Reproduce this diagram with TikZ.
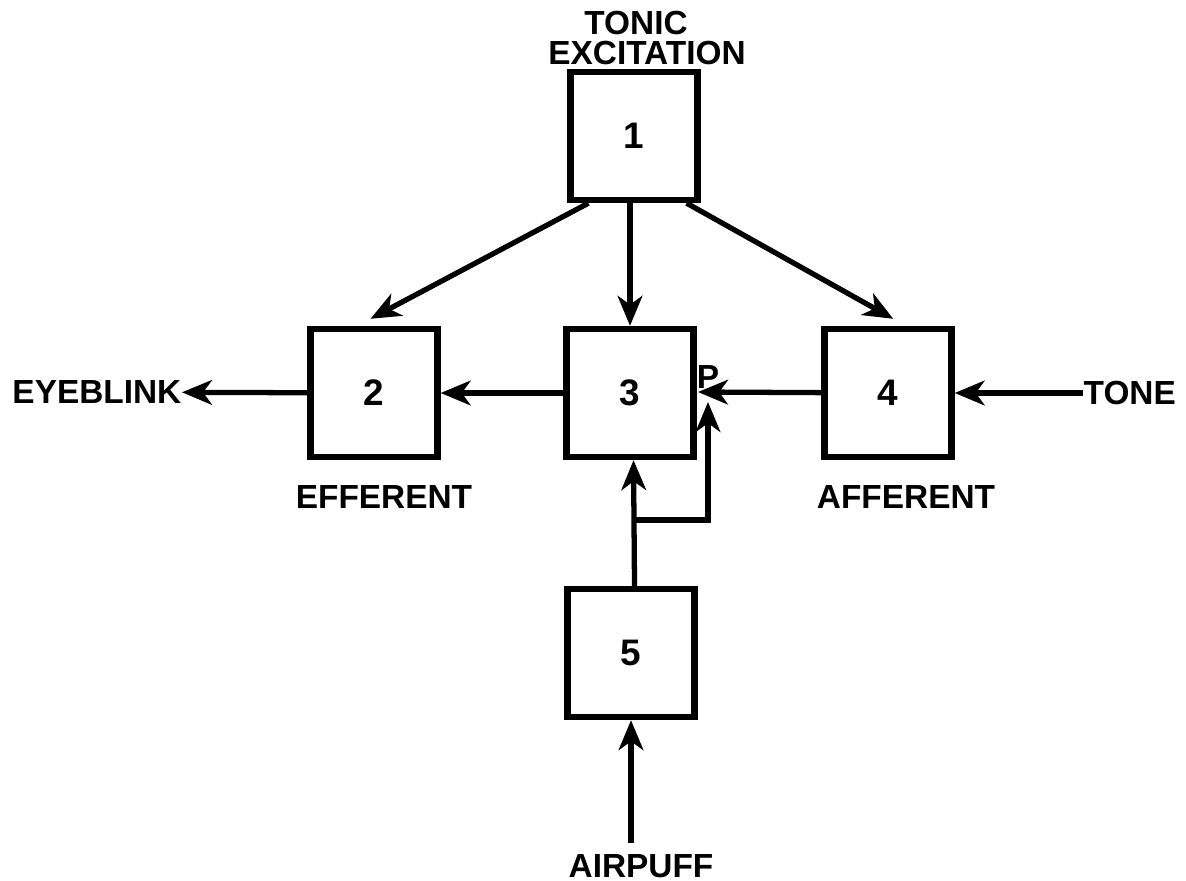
\documentclass[tikz,border=0pt]{standalone}
\usepackage{fontspec}
\setmainfont{Liberation Sans}
\usetikzlibrary{arrows.meta, positioning, calc}

\begin{document}
\begin{tikzpicture}[
	box/.style={draw, line width=1.8pt, minimum width=1.27cm, minimum height=1.28cm, font=\bfseries\fontsize{10.5}{10}\selectfont},
	lbl/.style={inner sep=0pt, font=\bfseries\fontsize{9.5}{8.4}\selectfont},
	arr/.style={line width=1.5pt, -{Stealth[length=8.5pt,width=7pt,inset=2.5pt]}}
	]
			\useasboundingbox (0,0) rectangle (11.86,8.80);
			\node[box] at(6.34,7.44) (b1) {1};
			\node[box] at(3.74,4.87) (b2) {2};
			\node[box] at(6.30,4.87) (b3) {3};
			\node[box] at(8.88,4.87) (b4) {4};
			\node[box] at(6.31,2.27) (b5) {5};
			
			\node[lbl, align=center] at(6.36,8.42) (tonic) {TONIC\\\hspace*{0.22cm}EXCITATION};
			\node[lbl, anchor=east] at(1.82,4.88) (blink) {EYEBLINK};
			\node[lbl, anchor=west] at(10.83,4.87) (tone) {TONE};
			\node[lbl] at(3.84,3.83) (eff) {EFFERENT};
			\node[lbl] at(9.06,3.83) (aff) {AFFERENT};
			\node[lbl] at(6.41,0.14) (puff) {AIRPUFF};
			\node[lbl] at(7.08,5.03) (p) {P};
			
			\coordinate (pin) at(6.98,4.88);
			\coordinate (ptip) at(7.08,4.78);
			\coordinate (split) at(6.33,3.60);
			
			\draw[arr] ([xshift=6pt]b1.south west) -- ([xshift=-1pt,yshift=2pt]b2.north);
			\draw[arr] (b1.south -| b3) -- (b3.north);
			\draw[arr] ([xshift=-4pt]b1.south east) -- ([xshift=1.5pt,yshift=2pt]b4.north);
			\draw[arr] (b3) -- (b2);
			\draw[arr] (b2) -- (blink);
			\draw[arr] (tone) -- (b4);
			\draw[arr] (b4) -- (pin);
			\draw[arr] ([xshift=1pt]b5.north) -- ([xshift=1pt]b3.south);
			\draw[line width=1.5pt] (split) -| ($(ptip)+(0,-0.6)$);
			\draw[arr] ($(ptip)+(0,-0.7)$) -- (ptip);
			\draw[arr] ([yshift=3pt]b5.south |- puff.north) -- (b5.south);
			\end{tikzpicture}
\end{document}
